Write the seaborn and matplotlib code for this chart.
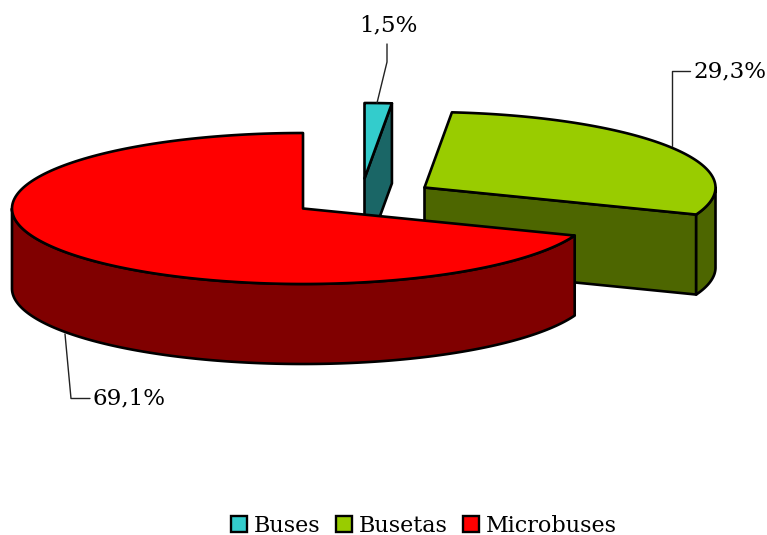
import numpy as np
import seaborn as sns
import matplotlib.pyplot as plt
from matplotlib.patches import Patch, Polygon

categories = ['Buses', 'Busetas', 'Microbuses']
shares = [1.5, 29.3, 69.1]
labels = ['1,5%', '29,3%', '69,1%']
top_colors = ['#33CCCC', '#99CC00', '#FF0000']
side_colors = ['#1A6666', '#4D6600', '#800000']

# pie geometry in pixels
rx, ry, depth = 291, 75.5, 80
centers = [(364.5, 178.5), (424.5, 187.5), (303, 208.5)]

sns.set_theme(style='white')
plt.rcParams['font.family'] = ['DejaVu Serif']

fig = plt.figure(figsize=(7.67, 5.35), dpi=100)
ax = fig.add_axes([0, 0, 1, 1])
ax.set_xlim(0, 767)
ax.set_ylim(535, 0)
ax.axis('off')


def rim(c, a, b, drop=0):
    t = np.radians(np.linspace(a, b, 200))
    return np.column_stack([c[0] + rx * np.sin(t), c[1] - ry * np.cos(t) + drop])


def poly(pts, color, z):
    ax.add_patch(Polygon(pts, closed=True, fc=color, ec='black', lw=1.9, joinstyle='round', zorder=z))


edges = np.cumsum([0] + shares) / sum(shares) * 360
for i in range(3):
    c, a, b = centers[i], edges[i], edges[i + 1]
    if i == 2:
        b = 360
    e = rim(c, b, b)[0] if i < 2 else None
    z = i * 10 + 1
    # radial face on the visible side of the slice
    if i < 2:
        face = np.array([c, e, (e[0], e[1] + depth), (c[0], c[1] + depth)])
        poly(face, side_colors[i], z)
    # outer wall where the rim faces the viewer
    lo, hi = max(a, 90), min(b, 270)
    if hi > lo:
        wall = np.vstack([rim(c, lo, hi), rim(c, hi, lo, depth)])
        poly(wall, side_colors[i], z + 1)
    poly(np.vstack([[c], rim(c, a, b)]), top_colors[i], z + 2)

# leader lines and value labels
ax.plot([377, 387, 387], [103, 62, 44], color='#222222', lw=1.0, zorder=40)
ax.plot([672, 672, 690], [146, 70.5, 70.5], color='#222222', lw=1.0, zorder=40)
ax.plot([65, 71, 90], [334, 398.5, 398.5], color='#222222', lw=1.0, zorder=40)
ax.text(388, 25, labels[0], ha='center', va='center', fontsize=16.6, color='black')
ax.text(693, 71, labels[1], ha='left', va='center', fontsize=16.6, color='black')
ax.text(92, 398.5, labels[2], ha='left', va='center', fontsize=16.6, color='black')

handles = [Patch(fc=c, ec='black', lw=1.7) for c in top_colors]
ax.legend(handles, categories, loc='center', bbox_to_anchor=(424 / 767, 1 - 525.5 / 535), ncol=3,
          frameon=False, fontsize=16, labelcolor='black', handlelength=0.72, handleheight=0.72,
          handletextpad=0.3, columnspacing=0.7, borderpad=0)

fig.savefig('out.png', dpi=100)
